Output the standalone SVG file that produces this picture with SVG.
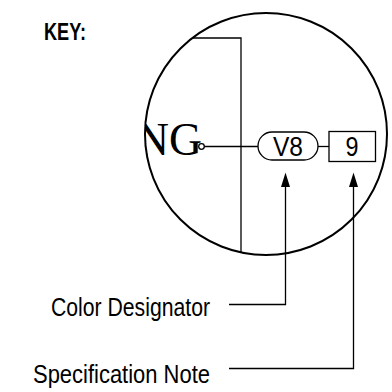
<svg xmlns="http://www.w3.org/2000/svg" width="392" height="392" viewBox="0 0 392 392">
<style>
.ln{fill:none;stroke:#000;stroke-width:1.3}
.ah{fill:#000;stroke:none}
.sans{font-family:"Liberation Sans Narrow","Liberation Sans",Arial,sans-serif;fill:#000}
.lbl{font-size:26px}
</style>
<defs>
<clipPath id="cc"><circle cx="266" cy="134" r="121"/></clipPath>
</defs>
<rect width="392" height="392" fill="#fff"/>
<g id="key"><text x="44" y="40" class="sans" font-weight="bold" font-size="23" textLength="42" lengthAdjust="spacingAndGlyphs">KEY:</text></g>
<g id="magnifier">
<g clip-path="url(#cc)">
<polyline class="ln" points="140,38 241,38 241,260"/>
<text x="136" y="155" font-family="'Liberation Serif','Times New Roman',serif" font-size="47" fill="#000" textLength="66" lengthAdjust="spacingAndGlyphs">NG</text>
</g>
<circle cx="266" cy="134" r="121" fill="none" stroke="#000" stroke-width="2"/>
</g>
<g id="connectors">
<line class="ln" x1="203" y1="146.5" x2="258" y2="146.5"/>
<line class="ln" x1="318" y1="146.5" x2="329" y2="146.5"/>
<polyline class="ln" points="285.5,185 285.5,304.5 229,304.5"/>
<polygon class="ah" points="285.5,172.5 290,187 281,187"/>
<polyline class="ln" points="353.5,185 353.5,368.5 229,368.5"/>
<polygon class="ah" points="353.5,172.5 358,187 349,187"/>
</g>
<g id="pin"><circle cx="201.5" cy="146.5" r="2.8" fill="#fff" stroke="#000" stroke-width="1.3"/></g>
<g id="color-designator">
<rect x="258" y="132" width="60" height="28" rx="14" class="ln" stroke-width="1.5" fill="#fff"/>
<text x="288" y="155.5" class="sans" font-size="27" text-anchor="middle" textLength="30" lengthAdjust="spacingAndGlyphs">V8</text>
</g>
<g id="spec-note">
<rect x="329" y="131.5" width="46.5" height="30" class="ln" stroke-width="1.5" fill="#fff"/>
<text x="352" y="155.5" class="sans" font-size="27" text-anchor="middle" textLength="13" lengthAdjust="spacingAndGlyphs">9</text>
</g>
<g id="label-color"><text x="210" y="316" class="sans lbl" text-anchor="end" textLength="159" lengthAdjust="spacingAndGlyphs">Color Designator</text></g>
<g id="label-spec"><text x="210" y="383" class="sans lbl" text-anchor="end" textLength="177" lengthAdjust="spacingAndGlyphs">Specification Note</text></g>
</svg>
